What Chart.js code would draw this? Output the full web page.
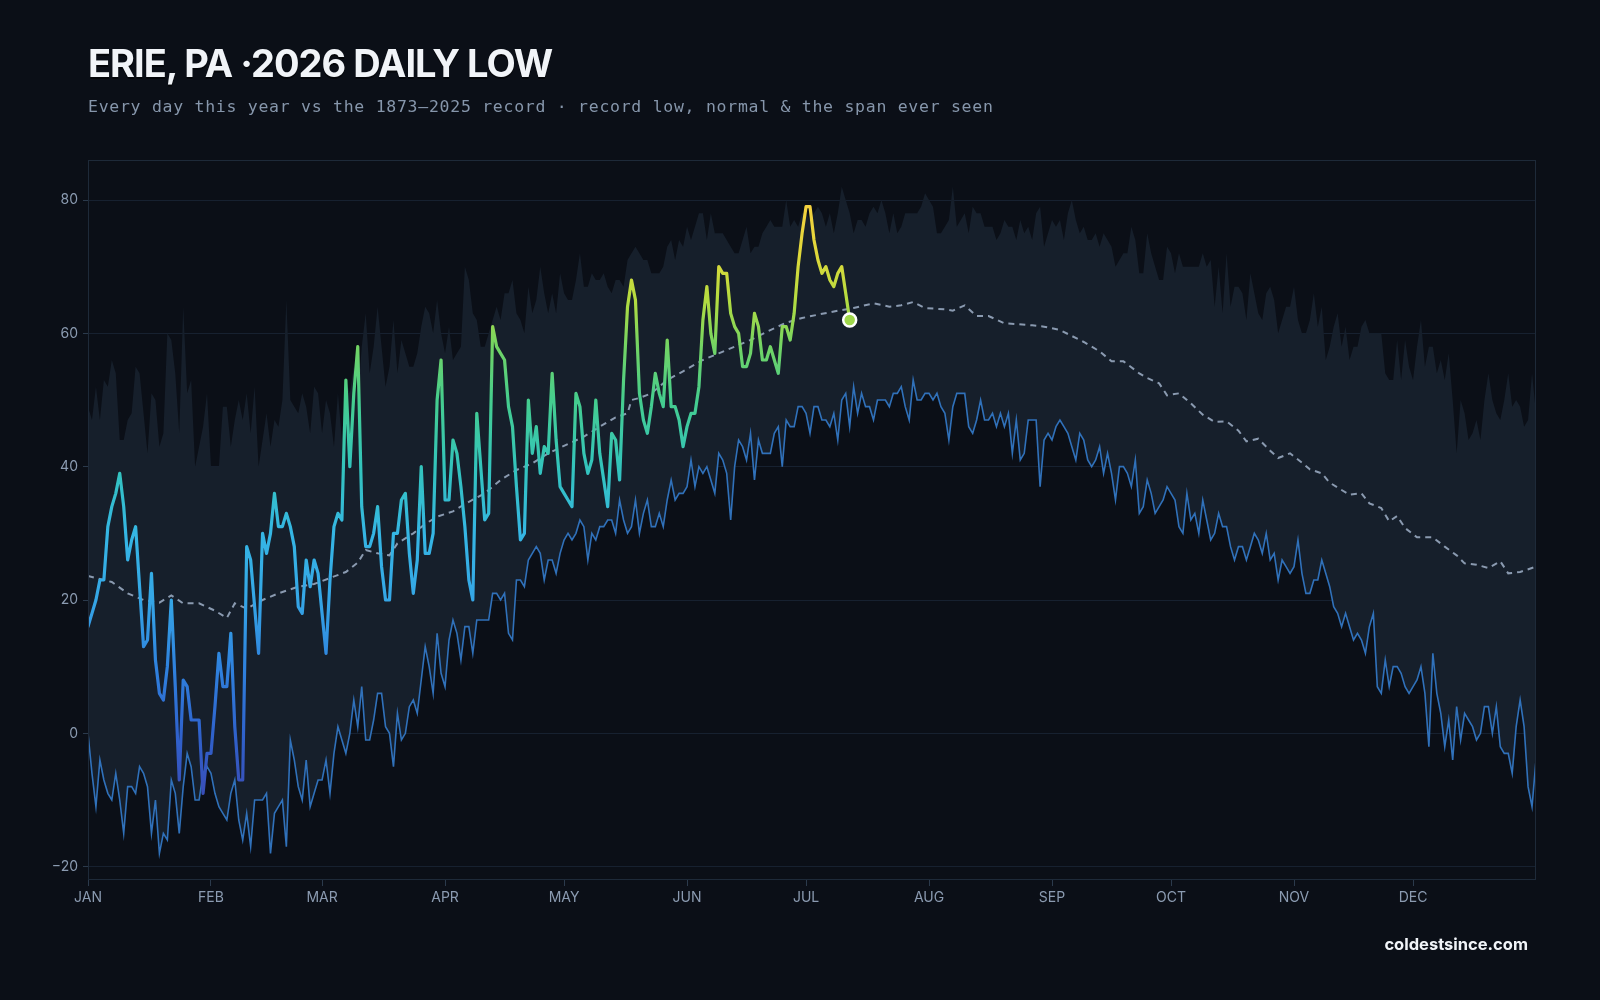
<!DOCTYPE html>
<html>
<head>
<meta charset="utf-8">
<title>Erie, PA 2026 daily low</title>
<script src="https://cdn.jsdelivr.net/npm/chart.js@4.4.1/dist/chart.umd.min.js"></script>
<style>
    html, body { margin: 0; padding: 0; background: #0b0f17; }
    #wrap { position: relative; width: 1600px; height: 1000px; overflow: hidden; }
    #lowChart { position: absolute; left: 0; top: 0; }
    .title { position: absolute; left: 88px; top: 44px; margin: 0; font: 700 38px/1 Inter, sans-serif; letter-spacing: -1px; color: #f1f4f8; text-shadow: 0 2px 0 rgba(0, 0, 0, 0.55); }
    .subtitle { position: absolute; left: 88px; top: 99px; font: 16.5px/1 "DejaVu Sans Mono", monospace; letter-spacing: 0.72px; color: #8696ab; }
    .footer { position: absolute; right: 72px; top: 936px; font: 700 16.5px/1 Inter, sans-serif; color: #f1f4f8; }
</style>
</head>
<body>
<div id="wrap">
    <canvas id="lowChart" width="1600" height="1000"></canvas>
    <h1 class="title">ERIE, PA ·2026 DAILY LOW</h1>
    <div class="subtitle">Every day this year vs the 1873–2025 record · record low, normal &amp; the span ever seen</div>
    <div class="footer">coldestsince.com</div>
</div>

<script>
// month axis: first day of each month (day of year, 0 = Jan 1)
const monthDays = [0, 31, 59, 90, 120, 151, 181, 212, 243, 273, 304, 334];
const monthNames = ["JAN", "FEB", "MAR", "APR", "MAY", "JUN", "JUL", "AUG", "SEP", "OCT", "NOV", "DEC"];
const yTicks = [-20, 0, 20, 40, 60, 80];

// 2026 daily lows so far (Jan 1 .. Jul 12)
const lows2026 = [
    16, 18, 20, 23, 23, 31, 34, 36, 39, 34, 26, 29, 31, 22, 13, 14, 24, 11, 6, 5,
    10, 20, 7, -7, 8, 7, 2, 2, 2, -9, -3, -3, 4, 12, 7, 7, 15, 1, -7, -7,
    28, 26, 19, 12, 30, 27, 30, 36, 31, 31, 33, 31, 28, 19, 18, 26, 22, 26, 24, 18,
    12, 23, 31, 33, 32, 53, 40, 51, 58, 34, 28, 28, 30, 34, 25, 20, 20, 30, 30, 35,
    36, 27, 21, 26, 40, 27, 27, 30, 50, 56, 35, 35, 44, 42, 37, 31, 23, 20, 48, 40,
    32, 33, 61, 58, 57, 56, 49, 46, 37, 29, 30, 50, 42, 46, 39, 43, 42, 54, 44, 37,
    36, 35, 34, 51, 49, 42, 39, 41, 50, 42, 38, 34, 45, 44, 38, 53, 64, 68, 65, 51,
    47, 45, 49, 54, 51, 49, 59, 49, 49, 47, 43, 46, 48, 48, 52, 62, 67, 60, 57, 70,
    69, 69, 63, 61, 60, 55, 55, 57, 63, 61, 56, 56, 58, 56, 54, 61, 61, 59, 63, 70,
    75, 79, 79, 74, 71, 69, 70, 68, 67, 69, 70, 66, 62
];

// record low for each day, 1873-2025
const recordLow = [
    0, -6, -11, -4, -7, -9, -10, -6, -10, -15, -8, -8, -9, -5, -6, -8, -15, -10, -18, -15,
    -16, -7, -9, -15, -8, -3, -5, -10, -10, -6, -5, -6, -9, -11, -12, -13, -9, -7, -13, -16,
    -12, -17, -10, -10, -10, -9, -18, -12, -11, -10, -17, -1, -4, -8, -10, -4, -11, -9, -7, -7,
    -4, -9, -3, 1, -1, -3, 0, 5, 1, 7, -1, -1, 2, 6, 6, 1, 0, -5, 3, -1,
    0, 4, 5, 3, 8, 13, 10, 6, 15, 9, 7, 14, 17, 15, 11, 16, 16, 12, 17, 17,
    17, 17, 21, 21, 20, 21, 15, 14, 23, 23, 22, 26, 27, 28, 27, 23, 26, 26, 24, 27,
    29, 30, 29, 30, 32, 31, 26, 30, 29, 31, 31, 32, 32, 30, 35, 32, 30, 31, 35, 30,
    33, 35, 31, 31, 33, 31, 35, 38, 35, 36, 36, 37, 41, 37, 40, 39, 40, 38, 36, 42,
    41, 39, 32, 40, 44, 43, 41, 45, 38, 44, 42, 42, 42, 45, 46, 40, 47, 46, 46, 49,
    49, 48, 45, 49, 49, 47, 47, 46, 48, 44, 50, 51, 46, 52, 48, 51, 49, 49, 47, 50,
    50, 50, 49, 51, 51, 52, 49, 47, 53, 50, 50, 51, 51, 50, 51, 49, 48, 44, 49, 51,
    51, 51, 46, 45, 47, 50, 47, 47, 48, 46, 48, 46, 48, 42, 47, 41, 42, 47, 47, 47,
    37, 44, 45, 44, 46, 47, 46, 45, 43, 41, 45, 44, 41, 40, 41, 43, 39, 42, 39, 35,
    40, 40, 39, 37, 41, 33, 34, 38, 36, 33, 34, 35, 37, 36, 35, 31, 30, 36, 32, 33,
    30, 35, 32, 29, 30, 33, 31, 31, 28, 26, 28, 28, 26, 28, 30, 29, 27, 30, 26, 27,
    23, 26, 25, 24, 25, 29, 24, 21, 21, 23, 23, 26, 24, 22, 19, 18, 16, 18, 16, 14,
    15, 14, 12, 16, 18, 7, 6, 11, 7, 10, 10, 9, 7, 6, 7, 8, 10, 6, -2, 12,
    6, 3, -2, 2, -4, 4, -1, 3, 2, 1, -1, 0, 4, 4, 0, 4, -2, -3, -3, -6,
    1, 5, 1, -8, -11, -4
];

// warmest low ever seen for each day (top of the span)
const recordHighLow = [
    49, 47, 52, 47, 53, 52, 56, 54, 44, 44, 47, 48, 55, 54, 48, 42, 51, 50, 43, 45,
    60, 59, 54, 45, 64, 51, 53, 40, 43, 46, 51, 40, 40, 40, 49, 49, 43, 47, 50, 47,
    51, 45, 52, 40, 44, 48, 43, 47, 46, 50, 65, 50, 49, 48, 51, 49, 45, 52, 51, 45,
    50, 48, 43, 51, 44, 53, 51, 55, 50, 58, 63, 54, 58, 64, 58, 52, 55, 62, 54, 59,
    57, 55, 55, 57, 61, 64, 63, 60, 65, 60, 57, 61, 56, 57, 58, 70, 68, 63, 62, 58,
    58, 60, 62, 64, 62, 66, 66, 68, 63, 62, 60, 67, 63, 65, 70, 66, 63, 66, 63, 69,
    66, 65, 65, 68, 72, 67, 67, 69, 68, 68, 69, 67, 66, 68, 68, 67, 71, 72, 73, 72,
    71, 71, 69, 69, 69, 70, 73, 74, 71, 74, 73, 76, 74, 76, 78, 78, 74, 78, 75, 75,
    75, 74, 73, 72, 72, 74, 76, 72, 73, 73, 75, 76, 77, 76, 76, 76, 80, 76, 77, 76,
    78, 78, 77, 78, 79, 78, 76, 78, 75, 78, 82, 80, 78, 75, 77, 77, 76, 78, 79, 78,
    80, 78, 75, 78, 75, 76, 78, 78, 78, 78, 79, 81, 80, 79, 75, 75, 76, 77, 82, 76,
    77, 78, 75, 79, 78, 78, 76, 76, 76, 74, 75, 77, 76, 76, 74, 77, 75, 76, 74, 78,
    79, 73, 75, 77, 76, 77, 74, 78, 80, 77, 75, 76, 74, 74, 75, 73, 75, 74, 73, 70,
    71, 72, 72, 76, 74, 69, 69, 75, 72, 70, 68, 68, 73, 72, 69, 72, 70, 70, 70, 70,
    70, 72, 70, 71, 64, 70, 63, 72, 64, 67, 67, 66, 62, 69, 66, 63, 62, 66, 67, 65,
    60, 62, 64, 64, 67, 62, 60, 60, 62, 66, 61, 64, 56, 58, 61, 63, 58, 61, 56, 58,
    58, 61, 62, 60, 60, 60, 60, 54, 53, 53, 59, 53, 59, 55, 53, 58, 62, 55, 58, 58,
    54, 56, 53, 57, 50, 42, 50, 48, 44, 45, 47, 44, 50, 54, 50, 48, 47, 50, 54, 49,
    50, 49, 46, 47, 54, 48
];

// normal low
const normalDays = [
    0, 6, 10, 14, 18, 21, 24, 28, 32, 35, 37, 40, 44, 48, 53, 57, 61, 65, 68, 70,
    73, 76, 78, 82, 85, 88, 92, 95, 100, 104, 108, 112, 116, 121, 125, 129, 133, 136, 137, 139,
    142, 146, 150, 155, 159, 163, 167, 171, 176, 180, 184, 189, 193, 198, 202, 205, 208, 211, 216, 218,
    221, 224, 227, 231, 234, 238, 241, 245, 248, 251, 255, 258, 261, 265, 267, 270, 272, 275, 278, 281,
    284, 287, 290, 292, 295, 298, 300, 303, 306, 308, 311, 313, 316, 318, 321, 323, 326, 328, 330, 332,
    335, 339, 342, 345, 347, 350, 353, 356, 358, 361, 365
];
const normalLows = [
    23.6, 22.7, 21, 20, 19.6, 20.7, 19.5, 19.5, 18.4, 17.3, 19.5, 18.7, 20, 21, 22, 22.4, 23.3, 24.2, 25.6, 27.5,
    27, 26.7, 28.5, 30, 31.4, 32.5, 33.3, 34.4, 36, 38, 39.5, 40.5, 42, 43.4, 44.5, 46, 47.4, 48, 50, 50.3,
    51, 53, 54.3, 56, 57, 58, 59, 60.2, 61.6, 62.3, 62.8, 63.4, 63.8, 64.5, 64, 64.2, 64.7, 63.8, 63.6, 63.4,
    64.2, 62.6, 62.6, 61.5, 61.4, 61.2, 61, 60.5, 59.6, 58.7, 57.3, 55.8, 55.8, 54, 53.3, 52.5, 50.7, 51, 49.5, 47.8,
    46.7, 46.8, 45.4, 43.8, 44.2, 42.4, 41.3, 42, 40.6, 39.6, 39, 37.6, 36.5, 35.8, 36, 34.5, 33.8, 31.8, 32.6, 30.8,
    29.4, 29.4, 28, 26.7, 25.5, 25.3, 24.8, 25.8, 24, 24.2, 25
];

const toPoints = (vals) => vals.map((v, i) => ({ x: i, y: v }));

// colour ramp for the 2026 line, by temperature
const tempStops = [
    [-10, "#3a4cb6"], [0, "#2f62cc"], [10, "#2f82de"], [20, "#35a6e6"], [30, "#35b6e4"],
    [40, "#33c4bc"], [50, "#45cd8e"], [58, "#72d464"], [65, "#b4dc40"], [72, "#e0d83a"], [80, "#f6d040"]
];

let lineGradient = null;
function tempGradient(context) {
    const chart = context.chart;
    const area = chart.chartArea;
    if (!area) return "#35b6e4";
    if (lineGradient) return lineGradient;
    const y = chart.scales.y;
    const top = y.getPixelForValue(80);
    const bottom = y.getPixelForValue(-10);
    lineGradient = chart.ctx.createLinearGradient(0, bottom, 0, top);
    tempStops.forEach(([v, c]) => lineGradient.addColorStop((v + 10) / 90, c));
    return lineGradient;
}

// outline round the plot area
const frame = {
    id: "frame",
    afterDraw(chart) {
        const { ctx, chartArea: a } = chart;
        ctx.save();
        ctx.strokeStyle = "#1e2a39";
        ctx.lineWidth = 1;
        ctx.strokeRect(a.left + 0.5, a.top + 0.5, a.right - a.left - 1, a.bottom - a.top - 1);
        ctx.restore();
    }
};

document.addEventListener("DOMContentLoaded", function() {
    const ctx = document.getElementById("lowChart").getContext("2d");
    const last = lows2026.length - 1;

    new Chart(ctx, {
        type: "line",
        data: {
            datasets: [
                {
                    label: "2026",
                    data: toPoints(lows2026),
                    borderColor: tempGradient,
                    borderWidth: 3.2,
                    borderJoinStyle: "round",
                    borderCapStyle: "round",
                    pointRadius: 0,
                    order: 2
                },
                {
                    label: "latest",
                    data: [{ x: last, y: lows2026[last] }],
                    pointRadius: 6.5,
                    pointBackgroundColor: "#9fd74b",
                    pointBorderColor: "#ffffff",
                    pointBorderWidth: 2.5,
                    showLine: false,
                    order: 1
                },
                {
                    label: "normal",
                    data: normalDays.map((d, i) => ({ x: d, y: normalLows[i] })),
                    borderColor: "#8a9ab0",
                    borderWidth: 2,
                    borderDash: [6, 5],
                    pointRadius: 0,
                    order: 3
                },
                {
                    label: "record low",
                    data: toPoints(recordLow),
                    borderColor: "#3071ba",
                    borderWidth: 1.6,
                    pointRadius: 0,
                    order: 4
                },
                {
                    label: "span",
                    data: toPoints(recordHighLow),
                    borderWidth: 0,
                    pointRadius: 0,
                    backgroundColor: "#161f2b",
                    fill: 3,
                    order: 5
                }
            ]
        },
        options: {
            responsive: false,
            animation: false,
            devicePixelRatio: 1,
            layout: { padding: { left: 0, top: 160, right: 64, bottom: 80 } },
            plugins: {
                legend: { display: false },
                tooltip: { enabled: false }
            },
            scales: {
                x: {
                    type: "linear",
                    min: 0,
                    max: 365,
                    afterBuildTicks: (scale) => { scale.ticks = monthDays.map(v => ({ value: v })); },
                    afterFit: (scale) => { scale.height = 40; },
                    ticks: {
                        autoSkip: false,
                        maxRotation: 0,
                        padding: 3,
                        color: "#8b9bb1",
                        font: { family: "Inter", size: 14 },
                        callback: (v) => monthNames[monthDays.indexOf(v)]
                    },
                    grid: { drawOnChartArea: false, tickLength: 6, tickColor: "#2b3a4c" },
                    border: { display: false }
                },
                y: {
                    min: -22,
                    max: 86,
                    afterBuildTicks: (scale) => { scale.ticks = yTicks.map(v => ({ value: v })); },
                    afterFit: (scale) => { scale.width = 88; },
                    ticks: {
                        padding: 5,
                        color: "#8b9bb1",
                        font: { family: "Inter", size: 14 },
                        callback: (v) => (v < 0 ? "\u2212" + Math.abs(v) : String(v))
                    },
                    grid: { color: "#172130", tickLength: 5, tickColor: "#2b3a4c" },
                    border: { display: false }
                }
            }
        },
        plugins: [frame]
    });
});
</script>
</body>
</html>
